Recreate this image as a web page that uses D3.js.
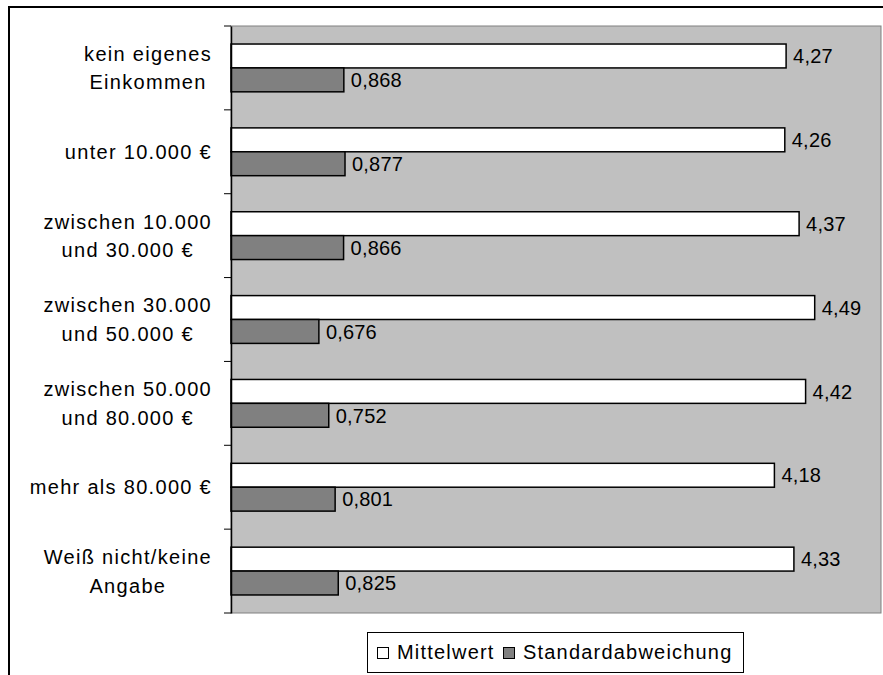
<!DOCTYPE html>
<html>
<head>
<meta charset="utf-8">
<script src="https://cdn.jsdelivr.net/npm/d3@7"></script>
<style>
  html, body { margin: 0; padding: 0; background: #fff; }
  svg { display: block; }
  text { font-family: "Liberation Sans", Arial, sans-serif; fill: #000; }
</style>
</head>
<body>
<svg id="chart" width="883" height="675"></svg>
<script>
const categories = [
  ["kein eigenes", "Einkommen"],
  ["unter 10.000 €"],
  ["zwischen 10.000", "und 30.000 €"],
  ["zwischen 30.000", "und 50.000 €"],
  ["zwischen 50.000", "und 80.000 €"],
  ["mehr als 80.000 €"],
  ["Weiß nicht/keine", "Angabe"]
];
const seriesNames = ["Mittelwert", "Standardabweichung"];
const mittelwert = [4.27, 4.26, 4.37, 4.49, 4.42, 4.18, 4.33];
const standardabweichung = [0.868, 0.877, 0.866, 0.676, 0.752, 0.801, 0.825];
const valueLabels = [
  ["4,27", "4,26", "4,37", "4,49", "4,42", "4,18", "4,33"],
  ["0,868", "0,877", "0,866", "0,676", "0,752", "0,801", "0,825"]
];
const seriesColors = ["#ffffff", "#808080"];

const svg = d3.select("#chart");

// outer frame
svg.append("rect")
  .attr("x", 9).attr("y", 7).attr("width", 900).attr("height", 700)
  .attr("fill", "none").attr("stroke", "#000").attr("stroke-width", 2);

const plot = { left: 231, right: 881, top: 26, bottom: 613 };

const x = d3.scaleLinear().domain([0, 5]).range([plot.left, plot.right]);
const catKeys = categories.map((c, i) => i);
const y = d3.scaleBand().domain(catKeys).range([plot.top, plot.bottom]).paddingInner(0.43).paddingOuter(0.215);
const ySub = d3.scaleBand().domain([0, 1]).range([0, y.bandwidth()]);
const yTicks = d3.scaleBand().domain(catKeys).range([plot.top, plot.bottom]);

// plot area
svg.append("rect")
  .attr("x", plot.left).attr("y", plot.top)
  .attr("width", plot.right - plot.left).attr("height", plot.bottom - plot.top)
  .attr("fill", "#c0c0c0").attr("stroke", "#808080").attr("stroke-width", 1);

const data = categories.map((c, i) => ({ i, vals: [mittelwert[i], standardabweichung[i]] }));

const groups = svg.append("g").selectAll("g").data(data).join("g")
  .attr("transform", d => `translate(0,${y(d.i)})`);

groups.selectAll("rect").data(d => d.vals.map((v, s) => ({ v, s, i: d.i }))).join("rect")
  .attr("x", x(0))
  .attr("y", d => ySub(d.s))
  .attr("width", d => x(d.v) - x(0))
  .attr("height", ySub.bandwidth())
  .attr("fill", d => seriesColors[d.s])
  .attr("stroke", "#000").attr("stroke-width", 1.5);

groups.selectAll("text.val").data(d => d.vals.map((v, s) => ({ v, s, i: d.i }))).join("text")
  .attr("class", "val")
  .attr("x", d => x(d.v) + 7)
  .attr("y", d => ySub(d.s) + ySub.bandwidth() / 2)
  .attr("dy", "0.36em")
  .attr("font-size", 20)
  .attr("letter-spacing", "0.2px")
  .text(d => valueLabels[d.s][d.i]);

// axis
const axis = d3.axisLeft(yTicks).tickSize(0).tickFormat("");
const axG = svg.append("g").attr("transform", `translate(${plot.left},0)`).call(axis);
axG.select(".domain").attr("stroke", "#000").attr("stroke-width", 1.5);
const boundaries = catKeys.map(k => yTicks(k)).concat([plot.bottom]);
axG.selectAll("line.tk").data(boundaries).join("line")
  .attr("class", "tk")
  .attr("x1", -7).attr("x2", 0)
  .attr("y1", d => d).attr("y2", d => d)
  .attr("stroke", "#000").attr("stroke-width", 1);

// category labels: block right-aligned, lines centred within block
const labelRight = 212;
const labG = svg.append("g").selectAll("text").data(categories).join("text")
  .attr("text-anchor", "middle")
  .attr("font-size", 20)
  .attr("letter-spacing", "1.3px");
labG.selectAll("tspan").data(c => c.map((t, j) => ({ t, j, n: c.length }))).join("tspan")
  .attr("x", 0)
  .attr("y", d => (d.j - (d.n - 1) / 2) * 28.5)
  .attr("dy", "0.36em")
  .text(d => d.t);
labG.each(function(c, i) {
  let w = 0;
  d3.select(this).selectAll("tspan").each(function() { w = Math.max(w, this.getComputedTextLength()); });
  d3.select(this).attr("transform", `translate(${labelRight - w / 2},${yTicks(i) + yTicks.bandwidth() / 2})`);
});

// legend
const leg = svg.append("g");
leg.append("rect").attr("x", 367.5).attr("y", 632.5).attr("width", 376).attr("height", 40)
  .attr("fill", "#fff").attr("stroke", "#000").attr("stroke-width", 1);
const legX = [377, 503];
seriesNames.forEach((name, s) => {
  leg.append("rect").attr("x", legX[s] + 0.5).attr("y", 647.5).attr("width", 11).attr("height", 11)
    .attr("fill", seriesColors[s]).attr("stroke", "#000").attr("stroke-width", 1);
  leg.append("text").attr("x", legX[s] + 20).attr("y", 659)
    .attr("font-size", 20).attr("letter-spacing", "1.2px").text(name);
});
</script>
</body>
</html>
